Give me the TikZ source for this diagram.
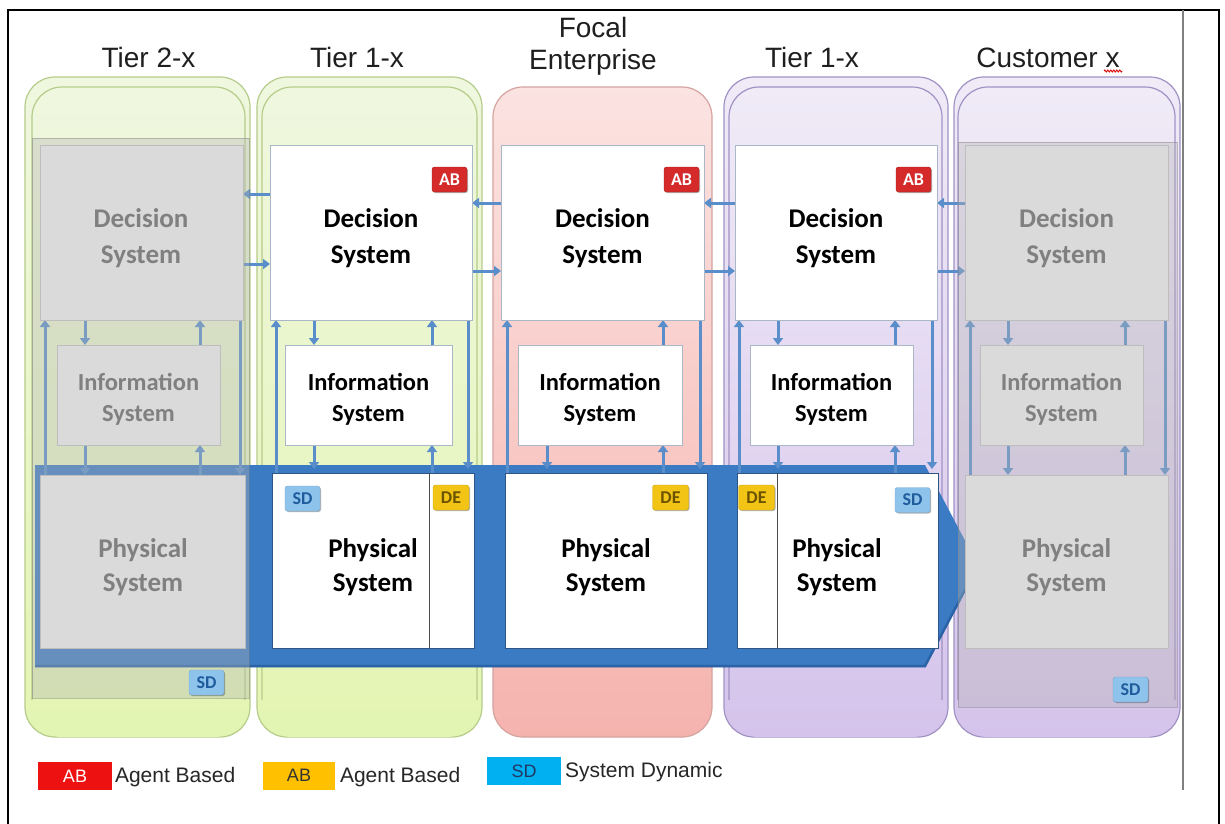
\documentclass[tikz,border=0pt]{standalone}
\usepackage{fontspec}
\setmainfont{Liberation Sans}
\newfontfamily\cbri{Carlito}
\usetikzlibrary{arrows.meta,shadows,decorations.pathmorphing}
\pgfdeclarelayer{paper}
\pgfdeclarelayer{lanes}
\pgfdeclarelayer{bluearrow}
\pgfdeclarelayer{conn}
\pgfdeclarelayer{fade}
\pgfsetlayers{paper,lanes,bluearrow,conn,fade,main}

\definecolor{greenTop}{HTML}{EFF7DF}
\definecolor{greenBot}{HTML}{E3F5B2}
\definecolor{greenLine}{HTML}{B5CC8A}
\definecolor{pinkTop}{HTML}{FBE3E1}
\definecolor{pinkBot}{HTML}{F5B3AE}
\definecolor{pinkLine}{HTML}{D5A3A0}
\definecolor{purpTop}{HTML}{F0EBF7}
\definecolor{purpBot}{HTML}{D5C3EB}
\definecolor{purpLine}{HTML}{A092C4}
\definecolor{flowBlue}{HTML}{3B7BC3}
\definecolor{flowDark}{HTML}{2A63A6}
\definecolor{connBlue}{HTML}{5A8ECB}
\definecolor{boxLine}{HTML}{A9B7C6}
\definecolor{phyLine}{HTML}{2E5586}
\definecolor{grayFill}{HTML}{DADADA}
\definecolor{grayLine}{HTML}{BDBDBD}
\definecolor{grayText}{HTML}{808080}
\definecolor{abRed}{HTML}{D42A2A}
\definecolor{deYel}{HTML}{F2C416}
\definecolor{deText}{HTML}{6A5200}
\definecolor{sdBlue}{HTML}{8EC3EC}
\definecolor{sdText}{HTML}{1F5C9C}
\definecolor{legRed}{HTML}{EE1111}
\definecolor{legOrange}{HTML}{FFC000}
\definecolor{legBlue}{HTML}{00B0F0}
\definecolor{legText}{HTML}{1F3864}
\definecolor{fadeGray}{HTML}{B4B4B4}

\tikzset{
  every node/.style={inner sep=0pt, outer sep=0pt},
  wbox/.style={draw=boxLine, line width=1pt, fill=white},
  pbox/.style={draw=phyLine, line width=1pt, fill=white},
  gbox/.style={draw=grayLine, line width=1pt, fill=grayFill},
  wtext/.style={align=center, text=black},
  gtext/.style={align=center, text=grayText},
  decfont/.style={font=\cbri\bfseries\fontsize{27}{36}\selectfont},
  inffont/.style={font=\cbri\bfseries\fontsize{24.5}{31}\selectfont},
  phyfont/.style={font=\cbri\bfseries\fontsize{27}{34}\selectfont},
  badge/.style={rounded corners=2.5pt, minimum width=35, minimum height=25,
    font=\cbri\bfseries\fontsize{18}{18}\selectfont,
    drop shadow={shadow xshift=1pt, shadow yshift=-1pt, opacity=0.3, fill=black}},
  abbadge/.style={badge, fill=abRed, draw=abRed!80!black, text=white},
  debadge/.style={badge, fill=deYel, draw=deYel!85!black, text=deText},
  sdbadge/.style={badge, fill=sdBlue, draw=sdBlue!85!black, text=sdText},
  conn/.style={draw=connBlue, line width=3pt, -{Triangle[length=7pt,width=10pt]}},
  lane/.style={rounded corners=30pt, line width=1.2pt},
  hdr/.style={font=\fontsize{28}{32}\selectfont, text=black!88, anchor=base},
  leg/.style={font=\fontsize{21}{24}\selectfont, text=black!85, anchor=west},
  legbox/.style={minimum height=28, font=\fontsize{18}{18}\selectfont},
}

\begin{document}
\begin{tikzpicture}[x=1pt,y=-1pt]
\useasboundingbox (0,0) rectangle (1225,823);
\begin{pgfonlayer}{paper}
  \fill[white] (0,0) rectangle (1225,823);
\end{pgfonlayer}

% frame
\draw[black, line width=2pt] (8,824) -- (8,10) -- (1219,10) -- (1219,824);
\draw[black!50, line width=2pt] (1183,10) -- (1183,790);

% headers
\node[hdr] (h1) at (148.5,67) {Tier 2-x};
\node[hdr] (h2) at (357,67) {Tier 1-x};
\node[hdr] (h3a) at (593,37) {Focal};
\node[hdr] (h3b) at (593,69) {Enterprise};
\node[hdr] (h4) at (812,67) {Tier 1-x};
\node[hdr] (h5) at (1048,67) {Customer x};
\draw[red!85!black, line width=0.9pt, decorate, decoration={zigzag, segment length=3pt, amplitude=1pt}] (1104,71) -- (1122,71);

% lanes
\begin{pgfonlayer}{lanes}
  % Tier 2
  \path[lane, draw=greenLine, top color=greenTop, bottom color=greenBot] (25,77) rectangle (250,737);
  \path[lane, top color=greenTop, bottom color=greenBot] (32,87) rectangle (245,737);
  \draw[lane, greenLine] (32,700) -- (32,87) -- (245,87) -- (245,700);
  % Tier 1 left
  \path[lane, draw=greenLine, top color=greenTop, bottom color=greenBot] (257,77) rectangle (482,737);
  \path[lane, top color=greenTop, bottom color=greenBot] (262,87) rectangle (477,737);
  \draw[lane, greenLine] (262,700) -- (262,87) -- (477,87) -- (477,700);
  % Focal
  \path[lane, draw=pinkLine, top color=pinkTop, bottom color=pinkBot] (493,87) rectangle (712,737);
  % Tier 1 right
  \path[lane, draw=purpLine, top color=purpTop, bottom color=purpBot] (724,77) rectangle (948,737);
  \path[lane, top color=purpTop, bottom color=purpBot] (729,87) rectangle (942,737);
  \draw[lane, purpLine] (729,700) -- (729,87) -- (942,87) -- (942,700);
  % Customer
  \path[lane, draw=purpLine, top color=purpTop, bottom color=purpBot] (954,77) rectangle (1180,737);
  \path[lane, top color=purpTop, bottom color=purpBot] (958,87) rectangle (1175,737);
  \draw[lane, purpLine] (958,700) -- (958,87) -- (1175,87) -- (1175,700);
\end{pgfonlayer}

% big flow arrow
\begin{pgfonlayer}{bluearrow}
  \fill[flowBlue] (35,465) -- (925,465) -- (978,565) -- (925,667) -- (35,667) -- cycle;
  \draw[flowDark, line width=2.5pt] (35,666) -- (925,666) -- (977,567);
\end{pgfonlayer}

% fading overlays for the outer tiers
\begin{pgfonlayer}{fade}
  \path[fill=fadeGray, fill opacity=0.36, draw=gray, draw opacity=0.45, line width=1pt] (32,138) rectangle (249,698);
  \path[fill=fadeGray, fill opacity=0.36, draw=gray, draw opacity=0.45, line width=1pt] (958,142) rectangle (1177,707);
\end{pgfonlayer}

% ---- boxes ----
% Tier 2 (faded)
\node[gbox, minimum width=203, minimum height=175] (decA) at (141.5,232.5) {};
\node[gbox, minimum width=163, minimum height=100] (infA) at (138.5,395) {};
\node[gbox, minimum width=205, minimum height=173] (phyA) at (142.5,561.5) {};
% Tier 1 left
\node[wbox, minimum width=202, minimum height=175] (decB) at (371,232.5) {};
\node[wbox, minimum width=167, minimum height=100] (infB) at (368.5,395) {};
\node[pbox, minimum width=202, minimum height=175] (phyB) at (373,560.5) {};
% Focal
\node[wbox, minimum width=203, minimum height=175] (decC) at (602.5,232.5) {};
\node[wbox, minimum width=164, minimum height=100] (infC) at (600,395) {};
\node[pbox, minimum width=202, minimum height=175] (phyC) at (606,560.5) {};
% Tier 1 right
\node[wbox, minimum width=202, minimum height=175] (decD) at (836,232.5) {};
\node[wbox, minimum width=163, minimum height=100] (infD) at (831.5,395) {};
\node[pbox, minimum width=201, minimum height=175] (phyD) at (837.5,560.5) {};
% Customer (faded)
\node[gbox, minimum width=203, minimum height=175] (decE) at (1066.5,232.5) {};
\node[gbox, minimum width=163, minimum height=100] (infE) at (1061.5,395) {};
\node[gbox, minimum width=203, minimum height=173] (phyE) at (1066.5,561.5) {};

% box texts
\node[gtext, decfont] (decAt) at (141,238.5) {Decision\\System};
\node[gtext, inffont] (infAt) at (138.5,399.5) {Information\\System};
\node[gtext, phyfont] (phyAt) at (143,567.5) {Physical\\System};
\node[wtext, decfont] (decBt) at (371,238.5) {Decision\\System};
\node[wtext, inffont] (infBt) at (368.5,399.5) {Information\\System};
\node[wtext, phyfont] (phyBt) at (373,567.5) {Physical\\System};
\node[wtext, decfont] (decCt) at (602.5,238.5) {Decision\\System};
\node[wtext, inffont] (infCt) at (600,399.5) {Information\\System};
\node[wtext, phyfont] (phyCt) at (606,567.5) {Physical\\System};
\node[wtext, decfont] (decDt) at (836,238.5) {Decision\\System};
\node[wtext, inffont] (infDt) at (831.5,399.5) {Information\\System};
\node[wtext, phyfont] (phyDt) at (837,567.5) {Physical\\System};
\node[gtext, decfont] (decEt) at (1066.5,238.5) {Decision\\System};
\node[gtext, inffont] (infEt) at (1061.5,399.5) {Information\\System};
\node[gtext, phyfont] (phyEt) at (1066.5,567.5) {Physical\\System};

% dividers inside physical boxes
\draw[black!70, line width=1pt] ([xshift=157pt]phyB.north west) -- ([xshift=157pt]phyB.south west);
\draw[black!70, line width=1pt] ([xshift=40pt]phyD.north west) -- ([xshift=40pt]phyD.south west);

% badges
\node[abbadge] (ab1) at (449.5,179.5) {AB};
\node[abbadge] (ab2) at (681.5,179.5) {AB};
\node[abbadge] (ab3) at (913.5,179.5) {AB};
\node[debadge, minimum width=36] (de1) at (451,497.5) {DE};
\node[debadge, minimum width=36] (de2) at (670.5,497.5) {DE};
\node[debadge, minimum width=36] (de3) at (756.5,497.5) {DE};
\node[sdbadge] (sd1) at (302.5,498.5) {SD};
\node[sdbadge] (sd2) at (912.5,500) {SD};
\node[sdbadge] (sd3) at (206.5,682.5) {SD};
\node[sdbadge] (sd4) at (1130.5,689.5) {SD};

% ---- connectors ----
\begin{pgfonlayer}{conn}
  % Tier 2
  \draw[conn] (phyA.north -| 45,0) -- (decA.south -| 45,0);
  \draw[conn] (decA.south -| 85,0) -- (infA.north -| 85,0);
  \draw[conn] (infA.north -| 200,0) -- (decA.south -| 200,0);
  \draw[conn] (infA.south -| 85,0) -- (phyA.north -| 85,0);
  \draw[conn] (phyA.north -| 200,0) -- (infA.south -| 200,0);
  \draw[conn] (decA.south -| 240,0) -- (phyA.north -| 240,0);
  % Tier 1 left
  \draw[conn] (phyB.north -| 276,0) -- (decB.south -| 276,0);
  \draw[conn] (decB.south -| 314,0) -- (infB.north -| 314,0);
  \draw[conn] (infB.north -| 432,0) -- (decB.south -| 432,0);
  \draw[conn, shorten >=4pt] (infB.south -| 314,0) -- (phyB.north -| 314,0);
  \draw[conn] (phyB.north -| 432,0) -- (infB.south -| 432,0);
  \draw[conn, shorten >=4pt] (decB.south -| 468,0) -- (phyB.north -| 468,0);
  % Focal
  \draw[conn] (phyC.north -| 507,0) -- (decC.south -| 507,0);
  \draw[conn] (infC.north -| 663,0) -- (decC.south -| 663,0);
  \draw[conn, shorten >=4pt] (infC.south -| 547,0) -- (phyC.north -| 547,0);
  \draw[conn] (phyC.north -| 663,0) -- (infC.south -| 663,0);
  \draw[conn, shorten >=4pt] (decC.south -| 700,0) -- (phyC.north -| 700,0);
  % Tier 1 right
  \draw[conn] (phyD.north -| 739,0) -- (decD.south -| 739,0);
  \draw[conn] (decD.south -| 778,0) -- (infD.north -| 778,0);
  \draw[conn] (infD.north -| 895,0) -- (decD.south -| 895,0);
  \draw[conn, shorten >=4pt] (infD.south -| 778,0) -- (phyD.north -| 778,0);
  \draw[conn] (phyD.north -| 895,0) -- (infD.south -| 895,0);
  \draw[conn, shorten >=4pt] (decD.south -| 932,0) -- (phyD.north -| 932,0);
  % Customer
  \draw[conn] (phyE.north -| 970,0) -- (decE.south -| 970,0);
  \draw[conn] (decE.south -| 1008,0) -- (infE.north -| 1008,0);
  \draw[conn] (infE.north -| 1125,0) -- (decE.south -| 1125,0);
  \draw[conn] (infE.south -| 1008,0) -- (phyE.north -| 1008,0);
  \draw[conn] (phyE.north -| 1125,0) -- (infE.south -| 1125,0);
  \draw[conn] (decE.south -| 1165,0) -- (phyE.north -| 1165,0);
  % horizontal links between decision systems
  \draw[conn] (decB.west |- 0,194) -- (decA.east |- 0,194);
  \draw[conn] (decA.east |- 0,264) -- (decB.west |- 0,264);
  \draw[conn] (decC.west |- 0,203) -- (decB.east |- 0,203);
  \draw[conn] (decB.east |- 0,271) -- (decC.west |- 0,271);
  \draw[conn] (decD.west |- 0,203) -- (decC.east |- 0,203);
  \draw[conn] (decC.east |- 0,271) -- (decD.west |- 0,271);
  \draw[conn] (decE.west |- 0,203) -- (decD.east |- 0,203);
  \draw[conn] (decD.east |- 0,271) -- (decE.west |- 0,271);
\end{pgfonlayer}

% legend
\node[legbox, fill=legRed, minimum width=74, text=white] (lg1) at (75,776) {AB};
\node[leg] (lt1) at (115,777) {Agent Based};
\node[legbox, fill=legOrange, minimum width=72, text=black!80] (lg2) at (299,775.5) {AB};
\node[leg] (lt2) at (340,777) {Agent Based};
\node[legbox, fill=legBlue, minimum width=74, text=legText] (lg3) at (524,771) {SD};
\node[leg] (lt3) at (565,772.5) {System Dynamic};
\end{tikzpicture}
\end{document}
